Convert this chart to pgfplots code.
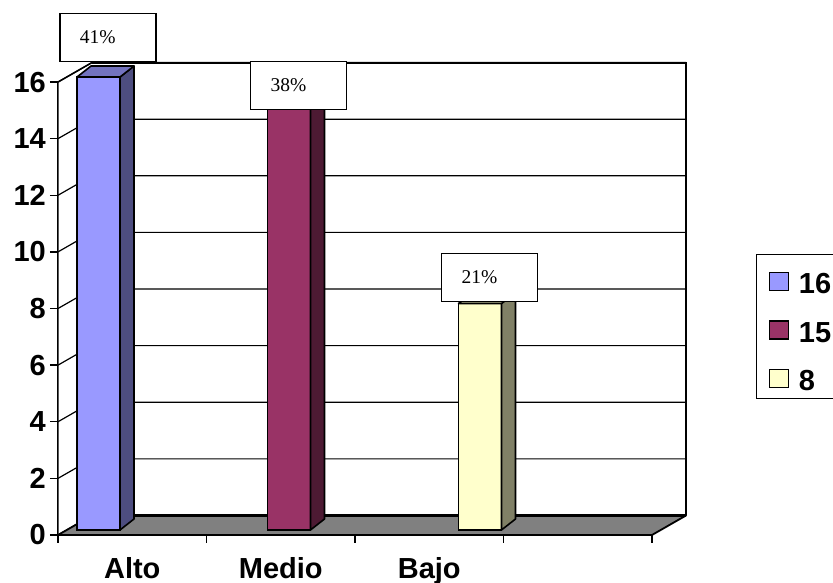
\documentclass[border=0pt]{standalone}
\usepackage{pgfplots}
\pgfplotsset{compat=1.18}
\usepackage{pgfplotstable}
\usepackage{fontspec}
\setmainfont{Liberation Sans}
\newfontfamily\labelfont{Liberation Serif}

% column colours: front, side, top
\definecolor{altoF}{HTML}{9999FF}
\definecolor{altoS}{HTML}{4D4D80}
\definecolor{altoT}{HTML}{7373BF}
\definecolor{medioF}{HTML}{993366}
\definecolor{medioS}{HTML}{4D1A33}
\definecolor{medioT}{HTML}{73264D}
\definecolor{bajoF}{HTML}{FFFFCC}
\definecolor{bajoS}{HTML}{808066}
\definecolor{bajoT}{HTML}{BFBF99}
\definecolor{floorgray}{HTML}{808080}

% x = centre of the column's front face, y = count, pct = share, ly = label base
\pgfplotstableread{
x      y   pct  ly
0.2727 16  41   16.53
1.5556 15  38   14.84
2.8418 8   21   8.05
}\bars

\tikzset{
  pctbox/.style={anchor=south, draw=black, line width=1.2pt, fill=white,
    font=\labelfont\fontsize{19.5}{20}\selectfont, text width=56pt,
    inner xsep=20pt, inner ysep=0pt, minimum height=48pt, align=left},
  grid/.style={black, line width=1.2pt},
}

% side and top faces of one column (row, side colour, top colour)
\newcommand\barfaces[3]{%
  \pgfplotstablegetelem{#1}{x}\of\bars\let\bx\pgfplotsretval
  \pgfplotstablegetelem{#1}{y}\of\bars\let\bv\pgfplotsretval
  \edef\temp{%
    \noexpand\filldraw[fill=#2,draw=black,line width=1.6pt,line join=round]
      ([xshift=21.5pt]axis cs:\bx,0) -- ([shift={(35.5pt,11pt)}]axis cs:\bx,0)
      -- ([shift={(35.5pt,11pt)}]axis cs:\bx,\bv) -- ([xshift=21.5pt]axis cs:\bx,\bv) -- cycle;
    \noexpand\filldraw[fill=#3,draw=black,line width=1.6pt,line join=round]
      ([xshift=-21.5pt]axis cs:\bx,\bv) -- ([xshift=21.5pt]axis cs:\bx,\bv)
      -- ([shift={(35.5pt,11pt)}]axis cs:\bx,\bv) -- ([shift={(-7.5pt,11pt)}]axis cs:\bx,\bv) -- cycle;
  }\temp}

% boxed percentage above one column
\newcommand\pctlabel[1]{%
  \pgfplotstablegetelem{#1}{x}\of\bars\let\bx\pgfplotsretval
  \pgfplotstablegetelem{#1}{ly}\of\bars\let\by\pgfplotsretval
  \pgfplotstablegetelem{#1}{pct}\of\bars\let\bp\pgfplotsretval
  \edef\temp{\noexpand\node[pctbox] at ([xshift=9.5pt]axis cs:\bx,\by) {\bp\noexpand\%};}\temp}

\pgfplotsset{
  swatch/.style={legend image code/.code={%
    \draw[##1, draw=black, line width=1.3pt] (0pt,-12.5pt) rectangle (19pt,5.5pt);}},
}

\begin{document}
\begin{tikzpicture}
\path[use as bounding box, clip] (0,0) rectangle (833pt,583pt);

% walls, floor and axes
\begin{axis}[
  at={(58pt,48pt)}, anchor=south west,
  scale only axis, width=628pt, height=473pt,
  xmin=0, xmax=4.229, ymin=0, ymax=16.708,
  clip=false,
  axis line style={draw=none},
  xtick={0,1,2,3,4}, xticklabels={Alto,Medio,Bajo,{}},
  x tick label as interval,
  ytick={0,2,...,16},
  tick align=outside, tick pos=left,
  major tick length=8pt,
  tick style={black, line width=1.3pt},
  ticklabel style={font=\bfseries\fontsize{29}{30}\selectfont},
  /pgf/number format/assume math mode=true,
  yticklabel style={inner sep=0pt, xshift=-4pt},
  xticklabel style={inner sep=0pt, yshift=-14pt},
]
\pgfplotsinvokeforeach{0,2,...,16}{
  \draw[grid] (axis cs:0,#1) -- ([shift={(34pt,19.5pt)}]axis cs:0,#1)
    -- ([shift={(34pt,19.5pt)}]axis cs:4,#1);
}
\filldraw[fill=floorgray, draw=black, line width=1.8pt, line join=round]
  (axis cs:0,0) -- (axis cs:4,0) -- ([shift={(34pt,19.5pt)}]axis cs:4,0)
  -- ([shift={(34pt,19.5pt)}]axis cs:0,0) -- cycle;
\draw[black, line width=2.6pt] ([shift={(34pt,19.5pt)}]axis cs:0,0)
  -- ([shift={(34pt,19.5pt)}]axis cs:4,0);
\draw[black, line width=2pt] ([shift={(34pt,19.5pt)}]axis cs:0,16)
  -- ([shift={(34pt,19.5pt)}]axis cs:4,16) -- ([shift={(34pt,19.5pt)}]axis cs:4,0);
\draw[black, line width=1.5pt] (axis cs:0,0) -- (axis cs:0,16)
  -- ([shift={(34pt,19.5pt)}]axis cs:0,16);
\end{axis}

% columns, raised to stand on the floor
\begin{axis}[
  at={(58pt,48pt)}, anchor=south west,
  scale only axis, width=628pt, height=473pt,
  xmin=0, xmax=4.229, ymin=-0.177, ymax=16.531,
  hide axis, clip=false,
  legend style={at={(axis description cs:1.11146,0.59408)}, anchor=north west,
    draw=black, line width=1.3pt, fill=white,
    inner xsep=12pt, inner ysep=4pt, row sep=9.5pt, column sep=10pt,
    font=\bfseries\fontsize{29}{30}\selectfont,
    nodes={inner sep=0pt, text height=35pt, text depth=4pt, text width=60pt}},
  legend cell align=left,
]
\addplot[ybar, bar width=43pt, bar shift=0pt, fill=altoF, draw=black, line width=1.6pt,
  skip coords between index={1}{3}, swatch] table[x=x, y=y] {\bars};
\addlegendentry{16}
\addplot[ybar, bar width=43pt, bar shift=0pt, fill=medioF, draw=black, line width=1.6pt,
  skip coords between index={0}{1}, skip coords between index={2}{3}, swatch] table[x=x, y=y] {\bars};
\addlegendentry{15}
\addplot[ybar, bar width=43pt, bar shift=0pt, fill=bajoF, draw=black, line width=1.6pt,
  skip coords between index={0}{2}, swatch] table[x=x, y=y] {\bars};
\addlegendentry{8}
\barfaces{0}{altoS}{altoT}
\barfaces{1}{medioS}{medioT}
\barfaces{2}{bajoS}{bajoT}
\pctlabel{0}
\pctlabel{1}
\pctlabel{2}
\end{axis}
\end{tikzpicture}
\end{document}
